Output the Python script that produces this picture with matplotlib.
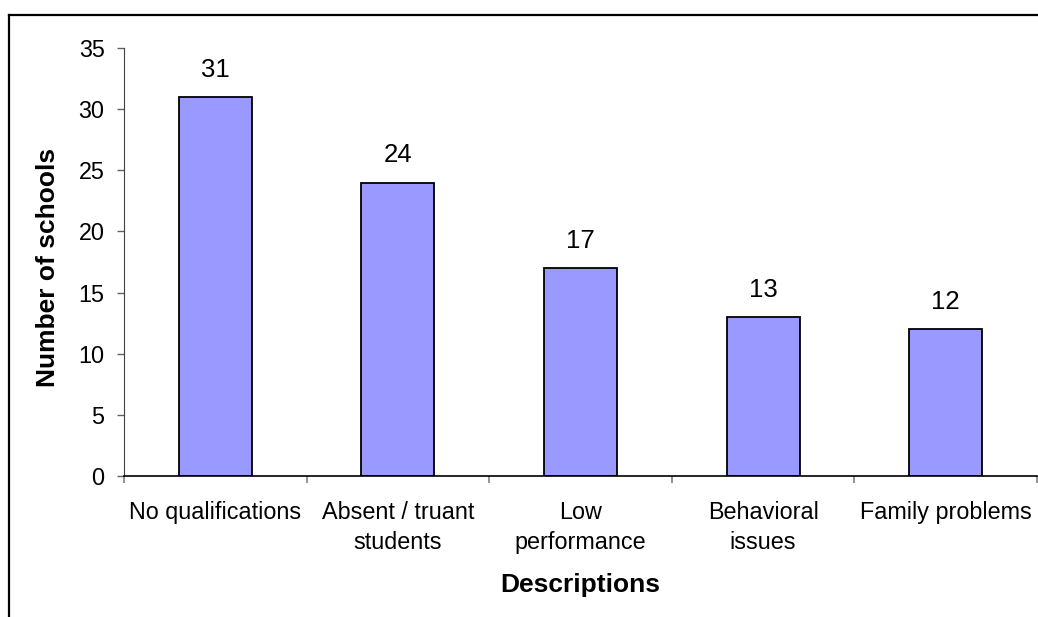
#
#   Bar chart: number of schools per description.
#

import matplotlib

matplotlib.use("Agg")
from matplotlib.lines import Line2D
import matplotlib.pyplot as plt
import numpy as np

categories = [
    "No qualifications",
    "Absent / truant\nstudents",
    "Low\nperformance",
    "Behavioral\nissues",
    "Family problems",
]
counts = [31, 24, 17, 13, 12]
yticks = [0, 5, 10, 15, 20, 25, 30, 35]


def use_custom_matplotlib_formatting():
    matplotlib.rcParams["font.family"] = ["Liberation Sans", "DejaVu Sans"]
    matplotlib.rcParams["font.size"] = 16.8


def main():
    use_custom_matplotlib_formatting()

    fig = plt.figure(figsize=(10.38, 6.17), dpi=100)
    ax = fig.add_axes([0.1195, 0.2285, 0.8795, 0.6937])

    x = np.arange(len(categories))
    ax.bar(x, counts, width=0.4, color="#9999FF", edgecolor="black", linewidth=1.3)

    for xi, val in zip(x, counts):
        ax.annotate(
            str(val),
            (xi, val),
            xytext=(0, 11),
            textcoords="offset points",
            ha="center",
            va="bottom",
            fontsize=18.5,
        )

    ax.set_xlim(-0.5, len(categories) - 0.5)
    ax.set_ylim(0, 35)
    ax.set_yticks(yticks)

    # category labels centred, ticks at the boundaries
    ax.set_xticks(x)
    ax.set_xticklabels(categories, linespacing=1.4)
    ax.set_xticks(np.arange(len(categories) + 1) - 0.5, minor=True)
    ax.tick_params(axis="x", which="major", length=0, pad=18)
    ax.tick_params(axis="x", which="minor", length=5, width=1.2, color="#808080")
    ax.tick_params(axis="y", length=5, width=1.0, color="#606060", pad=9)

    for side in ["top", "right"]:
        ax.spines[side].set_visible(False)
    ax.spines["left"].set_color("#404040")
    ax.spines["bottom"].set_linewidth(1.2)

    fig.text(
        48 / 1038,
        0.566,
        "Number of schools",
        rotation=90,
        ha="center",
        va="center",
        fontsize=19,
        fontweight="bold",
    )
    fig.text(
        580.5 / 1038,
        0.052,
        "Descriptions",
        ha="center",
        va="center",
        fontsize=19,
        fontweight="bold",
    )

    # chart frame (top and left edges)
    fy = 1 - 14.5 / 617
    fx = 8.5 / 1038
    fig.add_artist(Line2D([fx, 1.0], [fy, fy], color="black", lw=1.6))
    fig.add_artist(Line2D([fx, fx], [0.0, fy], color="black", lw=1.6))

    fig.savefig("out.png", dpi=100)


if __name__ == "__main__":
    main()
